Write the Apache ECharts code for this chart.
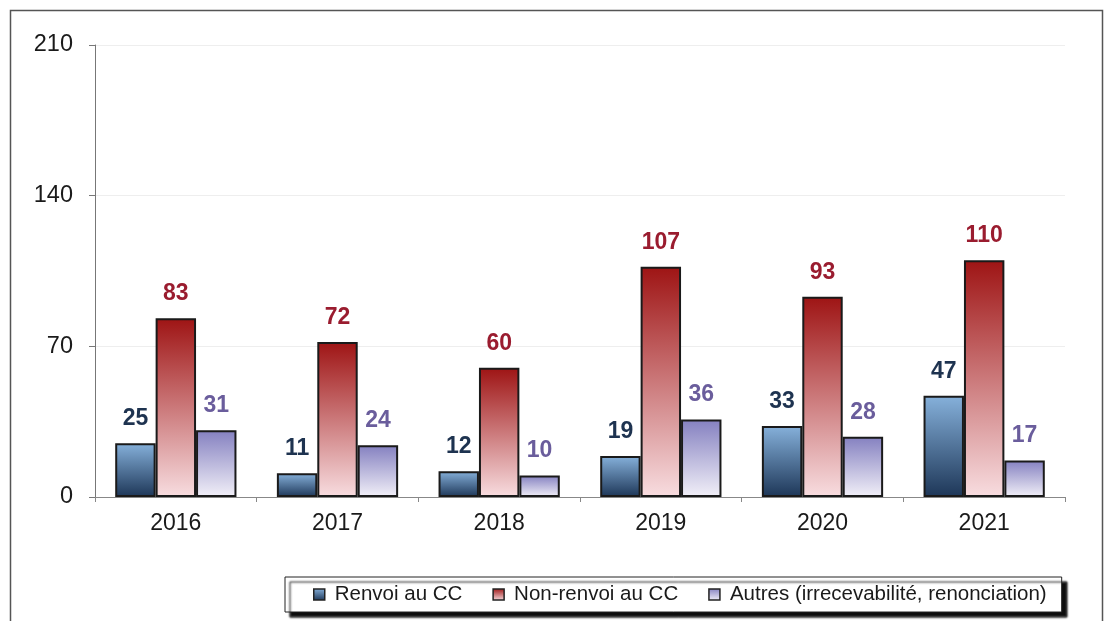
<!DOCTYPE html>
<html><head><meta charset="utf-8">
<script src="https://cdn.jsdelivr.net/npm/echarts@6/dist/echarts.min.js"></script>
<style>html,body{margin:0;padding:0;background:#fff}#c{width:1108px;height:621px}</style>
</head><body><div id="c"></div>
<script>
const categories = ['2016','2017','2018','2019','2020','2021'];
const renvoi = [25, 11, 12, 19, 33, 47];
const nonRenvoi = [83, 72, 60, 107, 93, 110];
const autres = [31, 24, 10, 36, 28, 17];
const seriesNames = ['Renvoi au CC', 'Non-renvoi au CC', 'Autres (irrecevabilité, renonciation)'];

const grad = (top, bottom) => new echarts.graphic.LinearGradient(0,0,0,1,[{offset:0,color:top},{offset:1,color:bottom}]);
const font = 'Liberation Sans, Arial, sans-serif';
function mk(name, data, fill, labelColor){
  return {name, type:'bar', data, barGap:'0%', barCategoryGap:'25%',
    itemStyle:{color:fill, borderColor:'#1a1a1a', borderWidth:2},
    label:{show:true, position:'top', distance:13, color:labelColor, fontWeight:'bold', fontSize:23, fontFamily:font}};
}
const chart = echarts.init(document.getElementById('c'));
chart.setOption({
  animation:false,
  graphic:[{type:'rect', left:8, top:8, shape:{width:1092, height:640}, style:{fill:'none', stroke:'#555', lineWidth:1.5}, z:-1}],
  grid:{left:95, right:43, top:45, bottom:124},
  legend:{top:577, left:285, itemWidth:11, itemHeight:11, itemGap:30, padding:[7,15,7,28],
    borderColor:'#222', borderWidth:1, backgroundColor:'#fff',
    shadowColor:'rgba(0,0,0,0.95)', shadowOffsetX:5, shadowOffsetY:5, shadowBlur:2,
    textStyle:{fontSize:20.5, fontFamily:font, color:'#1a1a1a', padding:[0,0,0,5]},
    itemStyle:{borderColor:'#222', borderWidth:1.5},
    data:seriesNames.map(n=>({name:n, icon:'rect'}))},
  xAxis:{type:'category', data:categories,
    axisLine:{lineStyle:{color:'#888', width:1}},
    axisTick:{show:true, length:5, lineStyle:{color:'#888'}},
    axisLabel:{fontSize:23, color:'#1a1a1a', fontFamily:font, margin:15}},
  yAxis:{type:'value', min:0, max:210, interval:70,
    axisLine:{show:true, lineStyle:{color:'#777'}},
    axisTick:{show:true, length:6, lineStyle:{color:'#777'}},
    axisLabel:{fontSize:23.5, color:'#1a1a1a', fontFamily:font, margin:22},
    splitLine:{lineStyle:{color:'#eee'}}},
  series:[
    mk(seriesNames[0], renvoi, grad('#86b1db','#1d3657'), '#1e3350'),
    mk(seriesNames[1], nonRenvoi, grad('#9e1414','#f8dde0'), '#9a1c2f'),
    mk(seriesNames[2], autres, grad('#8480c0','#f2f0f8'), '#6a5d9c')
  ]
});
</script></body></html>
